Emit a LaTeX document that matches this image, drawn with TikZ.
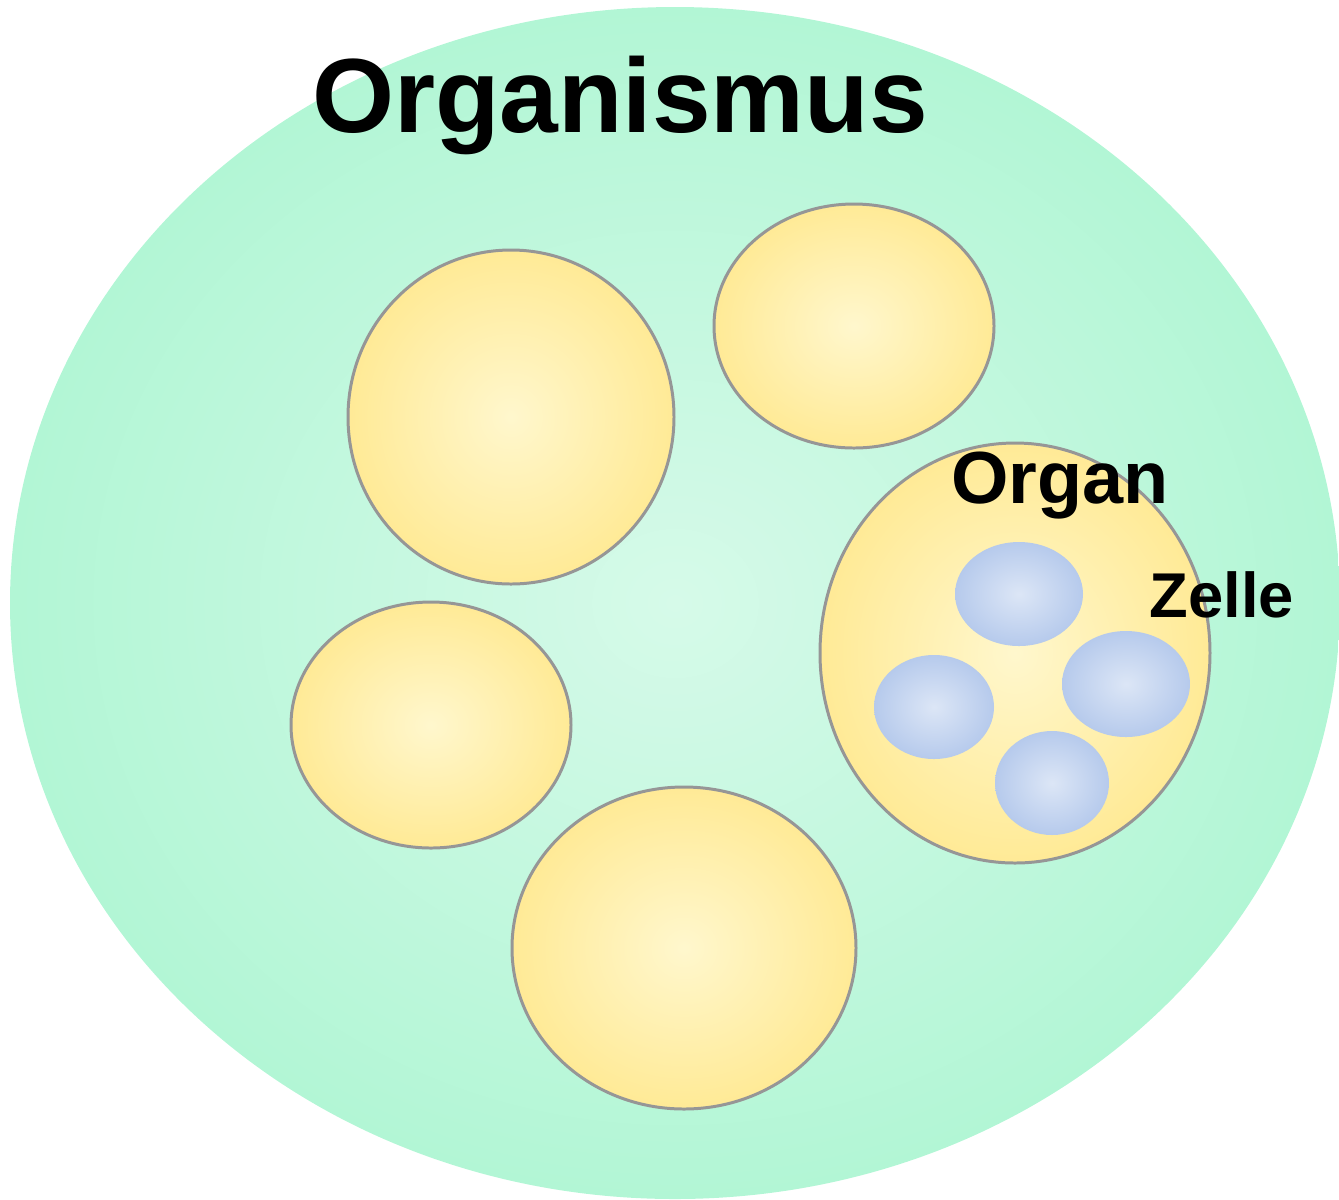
\documentclass[tikz,border=0pt]{standalone}
\usepackage{fontspec}
\setmainfont{Liberation Sans}
\definecolor{grnout}{RGB}{178,246,213}
\definecolor{grnin}{RGB}{214,250,233}
\definecolor{yelout}{RGB}{255,234,150}
\definecolor{yelin}{RGB}{255,247,205}
\definecolor{bluout}{RGB}{182,202,236}
\definecolor{bluin}{RGB}{220,230,246}
\definecolor{rim}{RGB}{150,150,150}
\tikzset{
  organism/.style={shading=radial, inner color=grnin, outer color=grnout},
  organ/.style={shading=radial, inner color=yelin, outer color=yelout, draw=rim, line width=0.85pt},
  cell/.style={shading=radial, inner color=bluin, outer color=bluout},
  lbl/.style={font=\bfseries, text=black, inner sep=0pt, anchor=base}
}
\begin{document}
\begin{tikzpicture}[x=0.01cm,y=-0.01cm]
\useasboundingbox (0,0) rectangle (1339,1199);
% organism
\path[organism] (675,603) ellipse [x radius=665, y radius=596];
% organs
\path[organ] (511,417) ellipse [x radius=163, y radius=167];
\path[organ] (854,326) ellipse [x radius=140, y radius=122];
\path[organ] (431,725) ellipse [x radius=140, y radius=123];
\path[organ] (684,948) ellipse [x radius=172, y radius=161];
\path[organ] (1015,653) ellipse [x radius=195, y radius=210];
% cells
\path[cell] (1019,594) ellipse [x radius=64, y radius=52];
\path[cell] (934,707) ellipse [x radius=60, y radius=52];
\path[cell] (1126,684) ellipse [x radius=64, y radius=53];
\path[cell] (1052,783) ellipse [x radius=57, y radius=52];
% labels
\node[lbl, font=\fontsize{30}{36}\selectfont\bfseries] (tOrganismus) at (620,132) {Organismus};
\node[lbl, font=\fontsize{21}{25}\selectfont\bfseries] (tOrgan) at (1060,503) {Organ};
\node[lbl, font=\fontsize{18}{22}\selectfont\bfseries] (tZelle) at (1222,617) {Zelle};
\end{tikzpicture}
\end{document}
